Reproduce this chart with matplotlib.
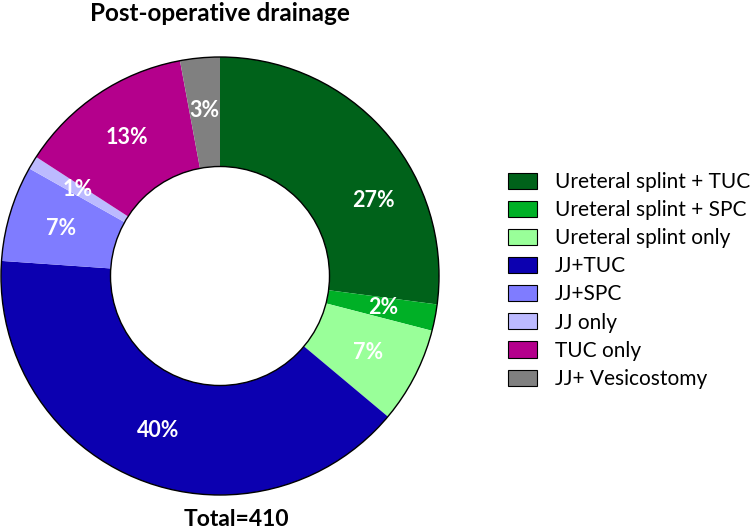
import matplotlib
matplotlib.use("Agg")
import matplotlib.pyplot as plt
from matplotlib.patches import Circle, Patch
import numpy as np

plt.rcParams["font.family"] = ["Lato", "DejaVu Sans"]

# --- Data ---
categories = ["Ureteral splint + TUC", "Ureteral splint + SPC",
              "Ureteral splint only", "JJ+TUC", "JJ+SPC", "JJ only",
              "TUC only", "JJ+ Vesicostomy"]
counts = [111, 8, 29, 164, 29, 4, 53, 12]  # total 410
colors = ["#00621a", "#00b026", "#99ff99", "#0c00b0", "#7f7cff",
          "#bcbaff", "#b4008c", "#808080"]
total = sum(counts)

# label angle nudges (deg) to mimic the hand-placed 27% label
label_nudge = {0: -15.0}

W, H = 756, 530
fig = plt.figure(figsize=(W / 100, H / 100), dpi=100)

# pie centre (220, 276) px, outer radius 219 px
cx, cy, R = 220, 276, 219
pad = 1.02
ax = fig.add_axes([(cx - R * pad) / W, (H - cy - R * pad) / H,
                   2 * R * pad / W, 2 * R * pad / H])

wedges, texts, autotexts = ax.pie(
    counts, colors=colors, startangle=90, counterclock=False,
    radius=1.0, pctdistance=0.76,
    autopct=lambda p: f"{p:.0f}%",
    wedgeprops=dict(width=0.5, linewidth=0),
    textprops=dict(color="white", fontsize=15.5, fontweight="bold"))

for i, t in enumerate(autotexts):
    if i in label_nudge:
        w = wedges[i]
        mid = np.deg2rad((w.theta1 + w.theta2) / 2 + label_nudge[i])
        t.set_position((0.78 * np.cos(mid), 0.78 * np.sin(mid)))

ax.add_patch(Circle((0, 0), 1.0, fill=False, ec="black", lw=1.0))
ax.add_patch(Circle((0, 0), 0.5, fill=False, ec="black", lw=1.0))
ax.set_xlim(-pad, pad)
ax.set_ylim(-pad, pad)
ax.set_aspect("equal")
ax.axis("off")

fig.text(220 / W, 1 - 2 / H, "Post-operative drainage", ha="center",
         va="top", fontsize=17.5, fontweight="bold")
fig.text(236 / W, 1 - 509 / H, "Total=410", ha="center", va="top",
         fontsize=16.5, fontweight="bold")

handles = [Patch(facecolor=c, edgecolor="black", linewidth=0.8)
           for c in colors]
fig.legend(handles, categories, loc="upper left",
           bbox_to_anchor=(508 / W, 1 - 172 / H), frameon=False,
           fontsize=15, handlelength=1.39, handleheight=0.82,
           handletextpad=0.87, labelspacing=0.39, borderpad=0,
           borderaxespad=0)

fig.savefig("out.png", dpi=100)
plt.close(fig)
